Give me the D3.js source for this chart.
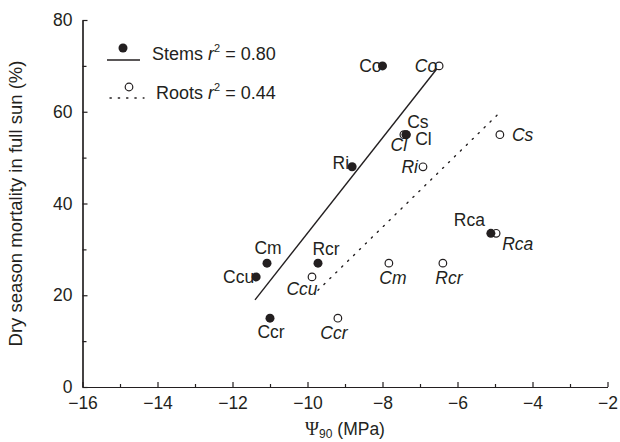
<!DOCTYPE html>
<html>
<head>
<meta charset="utf-8">
<script src="https://cdn.jsdelivr.net/npm/d3@7"></script>
<style>
  body { margin: 0; background: #fff; }
  svg { display: block; font-family: "Liberation Sans", Arial, sans-serif; }
  .axis path, .axis line { stroke: #231f20; stroke-width: 1.2; }
  .axis text { font-size: 17.5px; fill: #231f20; font-family: "Liberation Sans", Arial, sans-serif; }
</style>
</head>
<body>
<svg id="chart" width="620" height="442"></svg>
<script>
const species = ["Co", "Cs", "Cl", "Ri", "Cm", "Rcr", "Ccu", "Ccr", "Rca"];
const mortality = [70, 55, 55, 48, 27, 27, 24, 15, 33.5];
const stemPsi = [-8.0, -7.37, -7.37, -8.81, -11.08, -9.72, -11.37, -11.0, -5.11];
const rootPsi = [-6.49, -4.87, -7.43, -6.92, -7.83, -6.39, -9.88, -9.19, -4.97];

// fitted lines, ends as drawn
const stemFitX = [-11.4, -6.47];
const stemFitY = [19, 70.2];
const rootFitX = [-9.72, -4.89];
const rootFitY = [21.1, 59.7];

const xTicks = [-16, -14, -12, -10, -8, -6, -4, -2];
const xMinor = [-15, -13, -11, -9, -7, -5, -3];
const yTicks = [0, 20, 40, 60, 80];
const yMinor = [10, 30, 50, 70];

// label placement around each mark: [anchor, dx, dy]
const stemLabelPos = {
  Co: ["end", -1, 0], Cs: ["start", 1, -13], Cl: ["start", 9, 4], Ri: ["end", -3, -4],
  Cm: ["middle", 1, -15], Rcr: ["middle", 8, -14], Ccu: ["end", -2, 0],
  Ccr: ["middle", 1, 14], Rca: ["end", -6, -13]
};
const rootLabelPos = {
  Co: ["end", -2, 0], Cs: ["start", 12, 0], Cl: ["middle", -5, 10], Ri: ["end", -5, 0],
  Cm: ["middle", 4, 15], Rcr: ["middle", 6, 15], Ccu: ["middle", -10, 12],
  Ccr: ["middle", -4, 15], Rca: ["start", 6, 11]
};

const ink = "#231f20";
const plotLeft = 82.5, plotRight = 607.5, plotTop = 20, plotBottom = 387;

const svg = d3.select("#chart");
const x = d3.scaleLinear().domain([-16, -2]).range([plotLeft, plotRight]);
const y = d3.scaleLinear().domain([0, 80]).range([plotBottom, plotTop]);

// axes, ticks pointing inward
svg.append("g").attr("class", "axis")
  .attr("transform", `translate(0,${plotBottom})`)
  .call(d3.axisBottom(x).tickValues(xMinor).tickSize(-3).tickSizeOuter(0).tickFormat(""));
svg.append("g").attr("class", "axis")
  .attr("transform", `translate(0,${plotBottom})`)
  .call(d3.axisBottom(x).tickValues(xTicks).tickSize(-5).tickSizeOuter(0).tickPadding(10)
    .tickFormat(d => d < 0 ? "\u2212" + Math.abs(d) : d));
svg.append("g").attr("class", "axis")
  .attr("transform", `translate(${plotLeft},0)`)
  .call(d3.axisLeft(y).tickValues(yMinor).tickSize(-4).tickSizeOuter(0).tickFormat(""));
svg.append("g").attr("class", "axis")
  .attr("transform", `translate(${plotLeft},0)`)
  .call(d3.axisLeft(y).tickValues(yTicks).tickSize(-5).tickSizeOuter(0).tickPadding(10));

// axis titles
svg.append("text")
  .attr("transform", `translate(22,${(plotTop + plotBottom) / 2}) rotate(-90)`)
  .attr("text-anchor", "middle")
  .attr("font-size", 18.5).attr("fill", ink)
  .text("Dry season mortality in full sun (%)");

const xt = svg.append("text")
  .attr("x", (plotLeft + plotRight) / 2).attr("y", 435)
  .attr("text-anchor", "middle").attr("font-size", 17.5).attr("fill", ink);
xt.append("tspan").attr("font-family", "Liberation Serif, serif").attr("font-size", 19).text("\u03A8");
xt.append("tspan").attr("font-size", 12).attr("dy", 3).text("90");
xt.append("tspan").attr("dy", -3).text(" (MPa)");

// regression lines
const line = d3.line().x(d => x(d[0])).y(d => y(d[1]));
svg.append("path")
  .attr("d", line(d3.zip(stemFitX, stemFitY)))
  .attr("fill", "none").attr("stroke", ink).attr("stroke-width", 1.4);
svg.append("path")
  .attr("d", line(d3.zip(rootFitX, rootFitY)))
  .attr("fill", "none").attr("stroke", ink).attr("stroke-width", 1.4)
  .attr("stroke-dasharray", "1.3,7").attr("stroke-linecap", "round");

// points
const rows = species.map((s, i) => ({ s, m: mortality[i], stem: stemPsi[i], root: rootPsi[i] }));

svg.append("g").selectAll("circle").data(rows).join("circle")
  .attr("cx", d => x(d.root)).attr("cy", d => y(d.m)).attr("r", 3.8)
  .attr("fill", "#fff").attr("stroke", ink).attr("stroke-width", 1.2);

svg.append("g").selectAll("circle").data(rows).join("circle")
  .attr("cx", d => x(d.stem)).attr("cy", d => y(d.m)).attr("r", 4.5)
  .attr("fill", ink);

svg.append("g").selectAll("text").data(rows).join("text")
  .attr("x", d => x(d.stem) + stemLabelPos[d.s][1])
  .attr("y", d => y(d.m) + stemLabelPos[d.s][2])
  .attr("dy", "0.35em")
  .attr("text-anchor", d => stemLabelPos[d.s][0])
  .attr("font-size", 17.5).attr("fill", ink)
  .text(d => d.s);

svg.append("g").selectAll("text").data(rows).join("text")
  .attr("x", d => x(d.root) + rootLabelPos[d.s][1])
  .attr("y", d => y(d.m) + rootLabelPos[d.s][2])
  .attr("dy", "0.35em")
  .attr("text-anchor", d => rootLabelPos[d.s][0])
  .attr("font-size", 17.5).attr("font-style", "italic").attr("fill", ink)
  .text(d => d.s);

// legend
const legend = svg.append("g");
legend.append("line").attr("x1", 107).attr("x2", 140).attr("y1", 60).attr("y2", 60)
  .attr("stroke", ink).attr("stroke-width", 1.4);
legend.append("circle").attr("cx", 123).attr("cy", 48).attr("r", 4.5).attr("fill", ink);
legend.append("line").attr("x1", 110).attr("x2", 144).attr("y1", 98).attr("y2", 98)
  .attr("stroke", ink).attr("stroke-width", 1.4)
  .attr("stroke-dasharray", "1.3,7").attr("stroke-linecap", "round");
legend.append("circle").attr("cx", 129).attr("cy", 87).attr("r", 3.8)
  .attr("fill", "#fff").attr("stroke", ink).attr("stroke-width", 1.2);

const legendRows = [["Stems", "0.80", 152, 59.5], ["Roots", "0.44", 156, 98.5]];
legendRows.forEach(([name, r2, lx, ly]) => {
  const t = legend.append("text").attr("x", lx).attr("y", ly)
    .attr("font-size", 18).attr("fill", ink);
  t.append("tspan").text(name + " ");
  t.append("tspan").attr("font-style", "italic").text("r");
  t.append("tspan").attr("font-size", 11).attr("dy", -8).text("2");
  t.append("tspan").attr("dy", 8).text(" = " + r2);
});
</script>
</body>
</html>
